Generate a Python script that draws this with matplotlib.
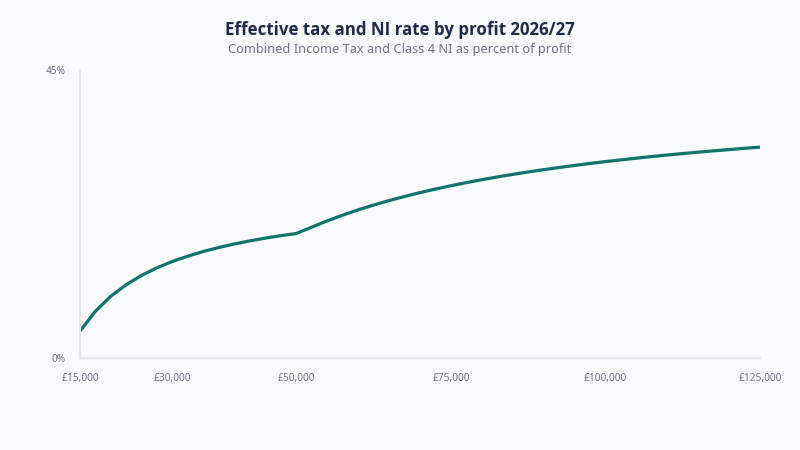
import matplotlib
matplotlib.use("Agg")
import matplotlib.pyplot as plt
from matplotlib.ticker import FuncFormatter

profit = [15000, 17500, 20000, 22500, 25000, 27500, 30000, 32500, 35000, 37500,
          40000, 42500, 45000, 47500, 50000, 52500, 55000, 57500, 60000, 62500,
          65000, 67500, 70000, 72500, 75000, 77500, 80000, 82500, 85000, 87500,
          90000, 92500, 95000, 97500, 100000, 102500, 105000, 107500, 110000,
          112500, 115000, 117500, 120000, 122500, 125000]
rate = [4.21, 7.32, 9.66, 11.47, 12.93, 14.12, 15.11, 15.94, 16.66, 17.28,
        17.83, 18.31, 18.74, 19.12, 19.46, 20.45, 21.43, 22.33, 23.15, 23.90,
        24.60, 25.24, 25.84, 26.40, 26.92, 27.40, 27.86, 28.29, 28.69, 29.07,
        29.43, 29.77, 30.09, 30.40, 30.69, 30.96, 31.23, 31.48, 31.72,
        31.95, 32.16, 32.37, 32.57, 32.77, 32.95]
x_ticks = [15000, 30000, 50000, 75000, 100000, 125000]
y_ticks = [0, 45]

plt.rcParams['font.family'] = ['Noto Sans', 'DejaVu Sans']
bg = '#f8fafc'
fig = plt.figure(figsize=(8, 4.5), dpi=100, facecolor=bg)
ax = fig.add_axes([0.1, 0.2044, 0.85, 0.64])
ax.set_facecolor(bg)

ax.plot(profit, rate, color='#0f7470', linewidth=2.3, solid_capstyle='butt')

ax.set_xlim(15000, 125000)
ax.set_ylim(0, 45)
ax.set_xticks(x_ticks)
ax.set_yticks(y_ticks)
ax.xaxis.set_major_formatter(FuncFormatter(lambda v, p: f"£{int(v):,}"))
ax.yaxis.set_major_formatter(FuncFormatter(lambda v, p: f"{int(v)}%"))
ax.tick_params(axis='both', length=0, labelsize=7.3, labelcolor='#6b7280')
ax.tick_params(axis='x', pad=11)
ax.tick_params(axis='y', pad=10)
for s in ['top', 'right']:
    ax.spines[s].set_visible(False)
for s in ['left', 'bottom']:
    ax.spines[s].set_color('#e2e5ea')
    ax.spines[s].set_linewidth(1.5)

fig.text(0.5, 1 - 30/450, "Effective tax and NI rate by profit 2026/27", ha='center', va='center',
         fontsize=12.2, fontweight='bold', color='#1e2a4a', family=['Open Sans', 'DejaVu Sans'])
fig.text(0.5, 1 - 50/450, "Combined Income Tax and Class 4 NI as percent of profit", ha='center', va='center',
         fontsize=9.2, color='#6b7280')

fig.savefig('out.png', dpi=100, facecolor=bg)
